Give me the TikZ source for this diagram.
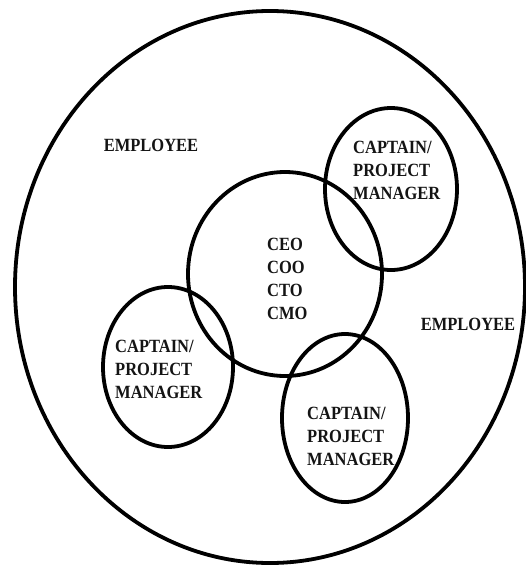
\documentclass[tikz,border=0pt]{standalone}
\usepackage{fontspec}
\usepackage{graphicx}
\setmainfont{Liberation Serif}
\newcommand{\tallbox}[1]{\scalebox{1}[1.13]{\begin{tabular}{@{}l@{}}#1\end{tabular}}}
\begin{document}
\begin{tikzpicture}[x=1pt,y=-1pt,
  ring/.style={draw=black,line width=3.8pt},
  lbl/.style={font=\fontsize{16.5}{20.4}\selectfont\bfseries,inner sep=0pt,anchor=west,text=black!92}]
\useasboundingbox[fill=white] (0,0) rectangle (525,565);
% outer employee circle
\draw[ring] (270,287) ellipse [x radius=255pt, y radius=276pt];
% core
\draw[ring] (285,274) ellipse [x radius=97pt, y radius=102pt];
% captains
\draw[ring] (391,189) ellipse [x radius=66pt, y radius=81pt];
\draw[ring] (168,367) ellipse [x radius=65pt, y radius=80pt];
\draw[ring] (345,418) ellipse [x radius=63pt, y radius=84pt];
% labels
\node[lbl,anchor=center] (emp1) at (151,147) {\tallbox{EMPLOYEE}};
\node[lbl,anchor=center] (emp2) at (468,326) {\tallbox{EMPLOYEE}};
\node[lbl] (core) at (267,280) {\tallbox{CEO\\COO\\CTO\\CMO}};
\node[lbl] (cap1) at (353,172) {\tallbox{CAPTAIN/\\PROJECT\\MANAGER}};
\node[lbl] (cap2) at (115,371) {\tallbox{CAPTAIN/\\PROJECT\\MANAGER}};
\node[lbl] (cap3) at (307,438) {\tallbox{CAPTAIN/\\PROJECT\\MANAGER}};
\end{tikzpicture}
\end{document}
